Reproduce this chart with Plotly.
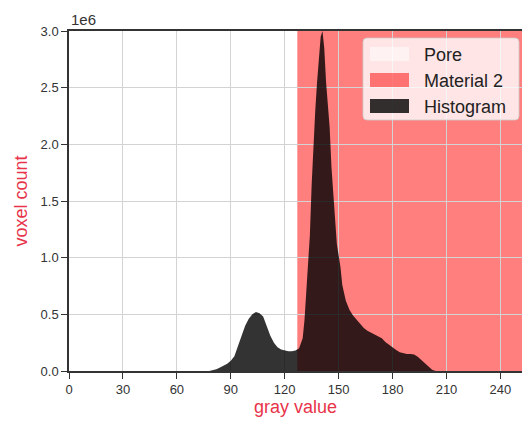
import plotly.graph_objects as go

# ---- data ----
gray_levels = [78, 80, 82, 84, 86, 88, 90, 92, 94, 96, 98, 100, 102, 104, 106, 108, 110,
               112, 114, 116, 118, 120, 122, 124, 126, 128, 129, 130, 131, 132, 133, 134,
               135, 136, 137, 138, 139, 140, 141, 142, 143, 144, 145, 146, 147, 148, 149,
               150, 151, 152, 153, 154, 155, 156, 158, 160, 162, 164, 166, 168, 170, 172,
               174, 176, 178, 180, 182, 184, 186, 188, 190, 192, 194, 196, 198, 200, 202, 204]
voxel_counts = [0, 5000, 15000, 30000, 45000, 65000, 90000, 130000, 220000, 310000, 400000,
                460000, 500000, 520000, 510000, 480000, 400000, 310000, 250000, 210000,
                190000, 180000, 175000, 175000, 180000, 200000, 240000, 290000, 450000,
                700000, 950000, 1200000, 1650000, 2050000, 2300000, 2550000, 2800000,
                2950000, 3000000, 2850000, 2550000, 2350000, 2150000, 1800000, 1550000,
                1300000, 1120000, 1020000, 920000, 760000, 680000, 620000, 580000, 540000,
                490000, 450000, 410000, 380000, 355000, 340000, 325000, 310000, 290000,
                255000, 230000, 205000, 185000, 165000, 155000, 150000, 150000, 145000,
                125000, 95000, 65000, 35000, 12000, 0]

phase_names = ["Pore", "Material 2"]
phase_bounds = [(0, 127), (127, 256)]
phase_colors = ["rgba(255,255,255,0.5)", "rgba(255,0,0,0.5)"]
hist_name = "Histogram"
hist_color = "rgba(0,0,0,0.8)"

x_ticks = [0, 30, 60, 90, 120, 150, 180, 210, 240]
y_ticks = [0, 500000, 1000000, 1500000, 2000000, 2500000, 3000000]
y_tick_text = ["0.0", "0.5", "1.0", "1.5", "2.0", "2.5", "3.0"]

W, H = 522, 423
ML, MT, MB, MR = 69, 31, 52, 0
title_red = "#e8334a"
font = "Liberation Sans, Arial, sans-serif"

fig = go.Figure()

# phase regions (below grid)
shapes = []
for (x0, x1), col in zip(phase_bounds, phase_colors):
    shapes.append(dict(type="rect", xref="x", yref="paper", x0=x0, x1=x1, y0=0, y1=1,
                       fillcolor=col, line=dict(width=0), layer="below"))

fig.add_trace(go.Scatter(x=gray_levels, y=voxel_counts, mode="lines", fill="tozeroy",
                         fillcolor=hist_color, line=dict(width=0, color=hist_color),
                         name=hist_name, showlegend=False, hoverinfo="skip"))

# manual legend (matplotlib-like patches)
pw = W - ML - MR
ph = H - MT - MB
def px(x):
    return (x - ML) / pw
def py(y):
    return (H - MB - y) / ph

# rounded legend frame
bx0, bx1, by0, by1, r = 363, 519, 38, 120, 4
def P(x, y):
    return f"{px(x):.5f},{py(y):.5f}"
frame = (f"M{P(bx0 + r, by0)} L{P(bx1 - r, by0)} Q{P(bx1, by0)} {P(bx1, by0 + r)} "
         f"L{P(bx1, by1 - r)} Q{P(bx1, by1)} {P(bx1 - r, by1)} "
         f"L{P(bx0 + r, by1)} Q{P(bx0, by1)} {P(bx0, by1 - r)} "
         f"L{P(bx0, by0 + r)} Q{P(bx0, by0)} {P(bx0 + r, by0)} Z")
shapes.append(dict(type="path", xref="paper", yref="paper", path=frame,
                   fillcolor="rgba(255,255,255,0.8)",
                   line=dict(color="rgba(204,204,204,0.8)", width=1), layer="above"))
legend_items = list(zip(phase_names + [hist_name], phase_colors + [hist_color]))
annotations = []
for i, (nm, col) in enumerate(legend_items):
    yc = 54 + i * 26
    shapes.append(dict(type="rect", xref="paper", yref="paper", x0=px(370), x1=px(409),
                       y0=py(yc + 7), y1=py(yc - 7), fillcolor=col,
                       line=dict(width=0), layer="above"))
    annotations.append(dict(xref="paper", yref="paper", x=px(422), y=py(yc + 1), text=nm,
                            showarrow=False, xanchor="left", yanchor="middle",
                            font=dict(size=18, color="#222", family=font)))

annotations.append(dict(xref="paper", yref="paper", x=px(69), y=1.0, yshift=1, text="1e6",
                        showarrow=False, xanchor="left", yanchor="bottom",
                        font=dict(size=15, color="#333", family=font)))

fig.update_layout(
    width=W, height=H,
    margin=dict(l=ML, r=MR, t=MT, b=MB, autoexpand=False),
    paper_bgcolor="white", plot_bgcolor="white",
    shapes=shapes, annotations=annotations, showlegend=False,
    font=dict(family=font, size=13, color="#333"),
)
fig.update_xaxes(range=[0, 252], tickvals=x_ticks, ticks="outside", ticklen=6,
                 tickcolor="#333", tickwidth=1.2,
                 showgrid=True, gridcolor="#d3d3d3", gridwidth=1,
                 showline=True, linecolor="#333", linewidth=1.5, mirror=True,
                 zeroline=False, tickfont=dict(size=13, color="#333"),
                 title=dict(text="gray value", font=dict(size=18, color=title_red), standoff=4))
fig.update_yaxes(range=[0, 3000000], tickvals=y_ticks, ticktext=y_tick_text,
                 ticks="outside", ticklen=6, tickcolor="#333", tickwidth=1.2,
                 showgrid=True, gridcolor="#d3d3d3", gridwidth=1,
                 showline=True, linecolor="#333", linewidth=1.5, mirror=False,
                 zeroline=False, tickfont=dict(size=13, color="#333"),
                 title=dict(text="voxel count", font=dict(size=18, color=title_red), standoff=8))

fig.write_html("out.html", config={"displayModeBar": False},
               post_script="document.body.style.margin='0';document.body.style.overflow='hidden';")
